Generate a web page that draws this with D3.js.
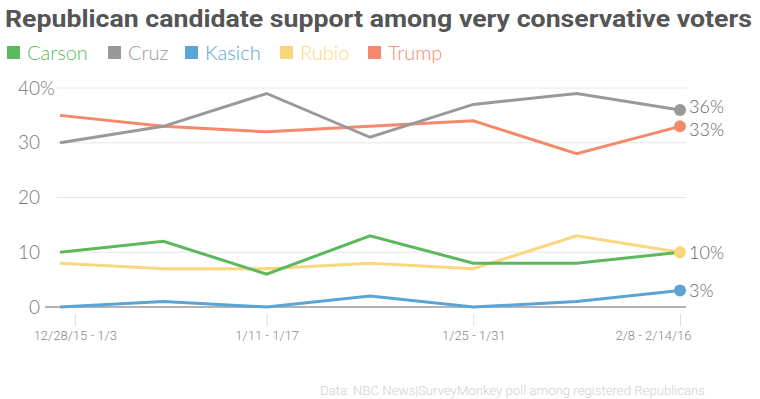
<!DOCTYPE html>
<html>
<head>
<meta charset="utf-8">
<script src="https://cdn.jsdelivr.net/npm/d3@7"></script>
<style>
  body { margin: 0; background: #fff; }
  svg { font-family: Lato, "Open Sans", sans-serif; }
</style>
</head>
<body>
<div id="chart"></div>
<script>
// data
const weeks = ["2015-12-28", "2016-01-04", "2016-01-11", "2016-01-18", "2016-01-25", "2016-02-01", "2016-02-08"];
const carson = [10, 12, 6, 13, 8, 8, 10];
const cruz = [30, 33, 39, 31, 37, 39, 36];
const kasich = [0, 1, 0, 2, 0, 1, 3];
const rubio = [8, 7, 7, 8, 7, 13, 10];
const trump = [35, 33, 32, 33, 34, 28, 33];
const names = ["Carson", "Cruz", "Kasich", "Rubio", "Trump"];
const colors = ["#5cb85c", "#999999", "#5aa5d6", "#f9d77e", "#f5896b"];
const yTicks = [0, 10, 20, 30, 40];
const tickDates = ["2015-12-29", "2016-01-11", "2016-01-25", "2016-02-08"];
const tickLabels = ["12/28/15 - 1/3", "1/11 - 1/17", "1/25 - 1/31", "2/8 - 2/14/16"];

const W = 760, H = 399;
const parse = d3.timeParse("%Y-%m-%d");
const dates = weeks.map(parse);
const series = [carson, cruz, kasich, rubio, trump].map((vals, i) => ({
  name: names[i],
  color: colors[i],
  values: vals.map((v, j) => ({ date: dates[j], v: v }))
}));

const svg = d3.select("#chart").append("svg")
  .attr("width", W)
  .attr("height", H);

const x = d3.scaleTime()
  .domain(d3.extent(dates))
  .range([60, 680]);

const y = d3.scaleLinear()
  .domain([0, 40])
  .range([307, 88]);

// title
svg.append("text")
  .attr("x", 5)
  .attr("y", 27)
  .attr("fill", "#555")
  .attr("font-family", "Roboto, sans-serif")
  .attr("font-weight", "bold")
  .attr("font-size", 23)
  .attr("textLength", 747)
  .attr("lengthAdjust", "spacingAndGlyphs")
  .text("Republican candidate support among very conservative voters");

// legend
const legX = [7, 108, 185, 280, 368];
const leg = svg.append("g");
series.forEach((s, i) => {
  leg.append("rect")
    .attr("x", legX[i])
    .attr("y", 46)
    .attr("width", 13)
    .attr("height", 13)
    .attr("fill", s.color);
  leg.append("text")
    .attr("x", legX[i] + 20)
    .attr("y", 60)
    .attr("fill", s.color)
    .attr("font-size", 20)
    .attr("font-weight", 300)
    .text(s.name);
});

// gridlines + y labels
const grid = svg.append("g");
yTicks.forEach(t => {
  grid.append("line")
    .attr("x1", t === 0 ? 45 : 57)
    .attr("x2", 686)
    .attr("y1", y(t))
    .attr("y2", y(t))
    .attr("stroke", t === 0 ? "#999" : "#e6e6e6")
    .attr("stroke-width", t === 0 ? 1.5 : 1);
  grid.append("text")
    .attr("x", 40)
    .attr("y", y(t))
    .attr("dy", "0.35em")
    .attr("text-anchor", "end")
    .attr("fill", "#777")
    .attr("font-size", 19)
    .attr("font-weight", 300)
    .text(t);
});
grid.append("text")
  .attr("x", 40)
  .attr("y", y(40))
  .attr("dy", "0.35em")
  .attr("fill", "#777")
  .attr("font-size", 19)
  .attr("font-weight", 300)
  .text("%");

// x axis
const xAxis = svg.append("g")
  .attr("transform", "translate(0,314)")
  .call(d3.axisBottom(x)
    .tickValues(tickDates.map(parse))
    .tickFormat((d, i) => tickLabels[i])
    .tickSizeInner(12)
    .tickSizeOuter(0)
    .tickPadding(5));
xAxis.select(".domain").remove();
xAxis.selectAll("line").attr("stroke", "#ddd");
xAxis.selectAll("text")
  .attr("fill", "#888")
  .attr("font-size", 13)
  .attr("font-family", "Roboto, sans-serif")
  .attr("font-weight", 300);
xAxis.selectAll("text").filter((d, i) => i === 3)
  .attr("text-anchor", "end")
  .attr("dx", 11);

// lines
const line = d3.line()
  .x(d => x(d.date))
  .y(d => y(d.v));

svg.append("g").selectAll("path")
  .data([series[2], series[3], series[0], series[4], series[1]])
  .join("path")
  .attr("fill", "none")
  .attr("stroke", d => d.color)
  .attr("stroke-width", 3)
  .attr("d", d => line(d.values));

// end dots and labels (small nudge so 36% and 33% don't collide)
const ends = [series[1], series[4], series[3], series[2]];
const nudge = [-3, 3, 0, 0];
const endG = svg.append("g");
ends.forEach((s, i) => {
  const last = s.values[s.values.length - 1];
  endG.append("circle")
    .attr("cx", x(last.date))
    .attr("cy", y(last.v))
    .attr("r", 6)
    .attr("fill", s.color);
  endG.append("text")
    .attr("x", x(last.date) + 9)
    .attr("y", y(last.v) + nudge[i])
    .attr("dy", "0.36em")
    .attr("fill", "#666")
    .attr("font-size", 18)
    .attr("font-weight", 300)
    .text(last.v + "%");
});

// source
svg.append("text")
  .attr("x", 705)
  .attr("y", 395)
  .attr("text-anchor", "end")
  .attr("fill", "#d0d0d0")
  .attr("font-size", 13)
  .attr("font-family", "Roboto, sans-serif")
  .attr("font-weight", 300)
  .attr("textLength", 385)
  .attr("lengthAdjust", "spacingAndGlyphs")
  .text("Data: NBC News|SurveyMonkey poll among registered Republicans");
</script>
</body>
</html>
